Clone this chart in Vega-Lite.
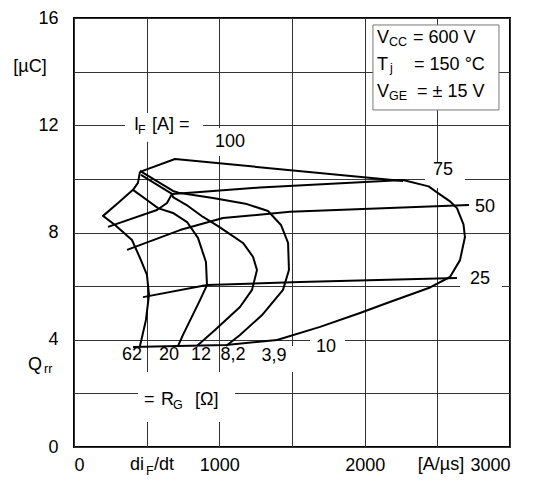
{
  "$schema": "https://vega.github.io/schema/vega-lite/v6.json",
  "width": 436,
  "height": 429,
  "autosize": "none",
  "padding": {"left": 74, "top": 18, "right": 27, "bottom": 40},
  "background": "white",
  "config": {
    "view": {"stroke": "black", "strokeWidth": 2},
    "font": "Liberation Sans",
    "axis": {"grid": true, "gridColor": "#333", "gridWidth": 1, "domain": false, "ticks": false, "labelFont": "Liberation Sans", "labelFontSize": 18, "labelColor": "black", "title": null}
  },
  "datasets": {
    "curves": [
      {"s":"IF100","o":0,"x":454,"y":10.26},{"s":"IF100","o":1,"x":695,"y":10.74},{"s":"IF100","o":2,"x":2264,"y":9.92},
      {"s":"IF75","o":0,"x":234,"y":8.21},{"s":"IF75","o":1,"x":571,"y":8.84},{"s":"IF75","o":2,"x":640,"y":9.10},{"s":"IF75","o":3,"x":674,"y":9.44},{"s":"IF75","o":4,"x":867,"y":9.51},{"s":"IF75","o":5,"x":1280,"y":9.68},{"s":"IF75","o":6,"x":2264,"y":9.96},
      {"s":"IF50","o":0,"x":365,"y":7.35},{"s":"IF50","o":1,"x":729,"y":8.09},{"s":"IF50","o":2,"x":1025,"y":8.54},{"s":"IF50","o":3,"x":1486,"y":8.77},{"s":"IF50","o":4,"x":2718,"y":9.03},
      {"s":"IF25","o":0,"x":475,"y":5.59},{"s":"IF25","o":1,"x":915,"y":6.04},{"s":"IF25","o":2,"x":1555,"y":6.15},{"s":"IF25","o":3,"x":2635,"y":6.30},
      {"s":"IF10","o":0,"x":406,"y":3.73},{"s":"IF10","o":1,"x":716,"y":3.77},{"s":"IF10","o":2,"x":1046,"y":3.80},{"s":"IF10","o":3,"x":1397,"y":3.99},
      {"s":"RG62","o":0,"x":454,"y":3.77},{"s":"RG62","o":1,"x":495,"y":4.74},{"s":"RG62","o":2,"x":516,"y":5.67},{"s":"RG62","o":3,"x":502,"y":6.42},{"s":"RG62","o":4,"x":454,"y":7.05},{"s":"RG62","o":5,"x":399,"y":7.72},{"s":"RG62","o":6,"x":282,"y":8.28},{"s":"RG62","o":7,"x":200,"y":8.62},{"s":"RG62","o":8,"x":303,"y":9.10},{"s":"RG62","o":9,"x":406,"y":9.59},{"s":"RG62","o":10,"x":440,"y":9.85},{"s":"RG62","o":11,"x":454,"y":10.26},
      {"s":"RG20","o":0,"x":716,"y":3.77},{"s":"RG20","o":1,"x":750,"y":4.18},{"s":"RG20","o":2,"x":867,"y":5.48},{"s":"RG20","o":3,"x":915,"y":6.04},{"s":"RG20","o":4,"x":908,"y":6.90},{"s":"RG20","o":5,"x":853,"y":7.80},{"s":"RG20","o":6,"x":778,"y":8.39},{"s":"RG20","o":7,"x":681,"y":8.73},{"s":"RG20","o":8,"x":578,"y":8.91},{"s":"RG20","o":9,"x":502,"y":9.21},{"s":"RG20","o":10,"x":406,"y":9.59},
      {"s":"RG12","o":0,"x":846,"y":3.77},{"s":"RG12","o":1,"x":970,"y":4.36},{"s":"RG12","o":2,"x":1142,"y":5.22},{"s":"RG12","o":3,"x":1225,"y":5.86},{"s":"RG12","o":4,"x":1259,"y":6.60},{"s":"RG12","o":5,"x":1232,"y":7.09},{"s":"RG12","o":6,"x":1163,"y":7.61},{"s":"RG12","o":7,"x":1073,"y":7.94},{"s":"RG12","o":8,"x":991,"y":8.24},{"s":"RG12","o":9,"x":888,"y":8.58},{"s":"RG12","o":10,"x":784,"y":8.99},{"s":"RG12","o":11,"x":681,"y":9.32},{"s":"RG12","o":12,"x":674,"y":9.44},{"s":"RG12","o":13,"x":461,"y":10.15},
      {"s":"RG8.2","o":0,"x":1046,"y":3.77},{"s":"RG8.2","o":1,"x":1142,"y":4.18},{"s":"RG8.2","o":2,"x":1294,"y":4.92},{"s":"RG8.2","o":3,"x":1438,"y":5.86},{"s":"RG8.2","o":4,"x":1479,"y":6.60},{"s":"RG8.2","o":5,"x":1473,"y":7.61},{"s":"RG8.2","o":6,"x":1424,"y":8.28},{"s":"RG8.2","o":7,"x":1335,"y":8.80},{"s":"RG8.2","o":8,"x":1190,"y":9.06},{"s":"RG8.2","o":9,"x":956,"y":9.29},{"s":"RG8.2","o":10,"x":729,"y":9.47},{"s":"RG8.2","o":11,"x":681,"y":9.55},{"s":"RG8.2","o":12,"x":454,"y":10.30},
      {"s":"RG3.9","o":0,"x":1397,"y":3.99},{"s":"RG3.9","o":1,"x":1693,"y":4.48},{"s":"RG3.9","o":2,"x":1968,"y":5.00},{"s":"RG3.9","o":3,"x":2154,"y":5.37},{"s":"RG3.9","o":4,"x":2450,"y":5.95},{"s":"RG3.9","o":5,"x":2587,"y":6.34},{"s":"RG3.9","o":6,"x":2656,"y":6.97},{"s":"RG3.9","o":7,"x":2690,"y":7.83},{"s":"RG3.9","o":8,"x":2680,"y":8.30},{"s":"RG3.9","o":9,"x":2635,"y":8.91},{"s":"RG3.9","o":10,"x":2590,"y":9.15},{"s":"RG3.9","o":11,"x":2505,"y":9.47},{"s":"RG3.9","o":12,"x":2440,"y":9.72},{"s":"RG3.9","o":13,"x":2264,"y":9.96}
    ],
    "whites": [
      {"x1":351,"x2":888,"y1":11.38,"y2":12.46},
      {"x1":922,"x2":1225,"y1":10.85,"y2":11.90},
      {"x1":2415,"x2":2690,"y1":9.66,"y2":10.63},
      {"x1":2745,"x2":2931,"y1":8.54,"y2":9.36},
      {"x1":2656,"x2":2945,"y1":5.78,"y2":6.68},
      {"x1":1624,"x2":1865,"y1":3.32,"y2":4.14},
      {"x1":1266,"x2":1555,"y1":2.80,"y2":3.77},
      {"x1":440,"x2":1108,"y1":0.93,"y2":2.80}
    ],
    "box": [{"x1":2057,"x2":2924,"y1":12.57,"y2":15.74}],
    "centered": [
      {"t":"100","x":1073,"y":11.38},
      {"t":"75","x":2539,"y":10.33},
      {"t":"50","x":2828,"y":8.95},
      {"t":"25","x":2794,"y":6.27},
      {"t":"10","x":1734,"y":3.73},
      {"t":"62","x":399,"y":3.43},
      {"t":"20","x":654,"y":3.43},
      {"t":"12","x":874,"y":3.43},
      {"t":"8,2","x":1094,"y":3.43},
      {"t":"3,9","x":1376,"y":3.39},
      {"t":"[A/µs]","x":2525,"y":-0.67},
      {"t":"[µC]","x":-303,"y":14.17}
    ],
    "lefts": [
      {"t":"I","x":413,"y":12.01},
      {"t":"[A] =","x":537,"y":12.01},
      {"t":"V","x":2085,"y":15.25},
      {"t":"= 600 V","x":2333,"y":15.25},
      {"t":"T","x":2085,"y":14.25},
      {"t":"= 150 °C","x":2340,"y":14.25},
      {"t":"V","x":2085,"y":13.24},
      {"t":"= ± 15 V","x":2360,"y":13.24},
      {"t":"di","x":385,"y":-0.67},
      {"t":"/dt","x":550,"y":-0.67},
      {"t":"=","x":482,"y":1.75},
      {"t":"R","x":599,"y":1.75},
      {"t":"[Ω]","x":833,"y":1.75},
      {"t":"Q","x":-316,"y":3.06}
    ],
    "subs": [
      {"t":"F","x":440,"y":11.82},
      {"t":"CC","x":2167,"y":15.10},
      {"t":"j","x":2174,"y":14.14},
      {"t":"GE","x":2167,"y":13.09},
      {"t":"F","x":495,"y":-0.90},
      {"t":"G","x":681,"y":1.57},
      {"t":"rr","x":-206,"y":2.91}
    ]
  },
  "encoding": {
    "x": {"type": "quantitative"},
    "y": {"type": "quantitative"}
  },
  "layer": [
    {
      "data": {"name": "whites"},
      "mark": {"type": "rect", "fill": "white", "stroke": null},
      "encoding": {
        "x": {"field": "x1", "type": "quantitative", "scale": {"domain": [0, 3000], "nice": false, "zero": false},
          "axis": {"values": [0,500,1000,1500,2000,2500,3000], "labelExpr": "datum.value % 1000 == 0 ? datum.label : ''", "labelPadding": 9, "format": "d"}},
        "x2": {"field": "x2"},
        "y": {"field": "y1", "type": "quantitative", "scale": {"domain": [0, 16], "nice": false, "zero": false},
          "axis": {"values": [0,2,4,6,8,10,12,14,16], "labelExpr": "datum.value % 4 == 0 ? datum.label : ''", "labelPadding": 16}},
        "y2": {"field": "y2"}
      }
    },
    {
      "data": {"name": "box"},
      "mark": {"type": "rect", "fill": "white", "stroke": "#777", "strokeWidth": 1},
      "encoding": {
        "x": {"field": "x1", "type": "quantitative"},
        "x2": {"field": "x2"},
        "y": {"field": "y1", "type": "quantitative"},
        "y2": {"field": "y2"}
      }
    },
    {
      "data": {"name": "curves"},
      "mark": {"type": "line", "color": "black", "strokeWidth": 2, "strokeJoin": "round"},
      "encoding": {
        "x": {"field": "x", "type": "quantitative"},
        "y": {"field": "y", "type": "quantitative"},
        "detail": {"field": "s"},
        "order": {"field": "o", "type": "quantitative"}
      }
    },
    {
      "data": {"name": "centered"},
      "mark": {"type": "text", "fontSize": 18, "align": "center", "baseline": "middle", "color": "black"},
      "encoding": {
        "x": {"field": "x", "type": "quantitative"},
        "y": {"field": "y", "type": "quantitative"},
        "text": {"field": "t"}
      }
    },
    {
      "data": {"name": "lefts"},
      "mark": {"type": "text", "fontSize": 18, "align": "left", "baseline": "middle", "color": "black"},
      "encoding": {
        "x": {"field": "x", "type": "quantitative"},
        "y": {"field": "y", "type": "quantitative"},
        "text": {"field": "t"}
      }
    },
    {
      "data": {"name": "subs"},
      "mark": {"type": "text", "fontSize": 12.5, "align": "left", "baseline": "middle", "color": "black"},
      "encoding": {
        "x": {"field": "x", "type": "quantitative"},
        "y": {"field": "y", "type": "quantitative"},
        "text": {"field": "t"}
      }
    }
  ]
}
